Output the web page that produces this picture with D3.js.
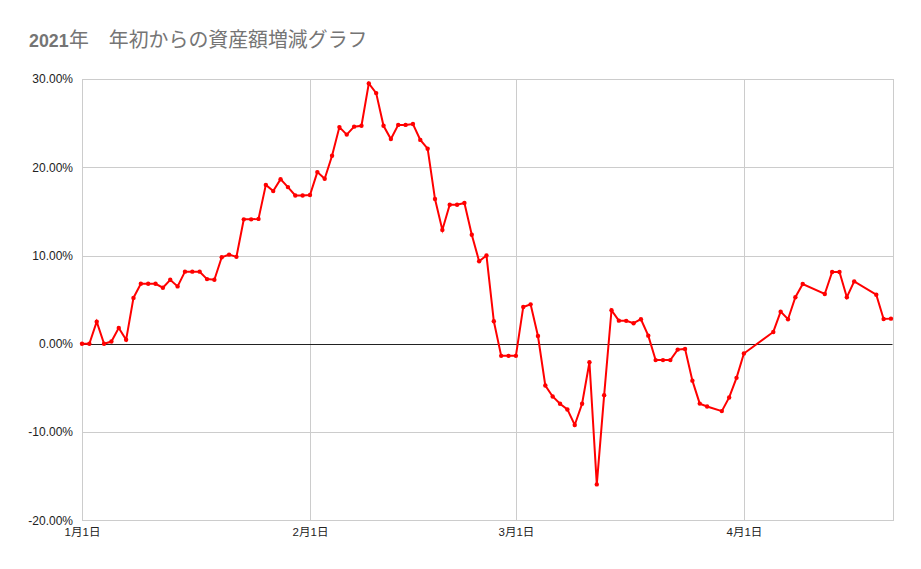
<!DOCTYPE html>
<html><head><meta charset="utf-8">
<script src="https://cdn.jsdelivr.net/npm/d3@7"></script>
<style>
body{margin:0;background:#fff;}
text{font-family:Arial,"Liberation Sans","Noto Sans CJK JP",sans-serif;}
</style></head>
<body><svg id="c" width="921" height="569"></svg>
<script>
const titleText = ["2021", "年　年初からの資産額増減グラフ"];
const dates = [
 "2021-01-01","2021-01-02","2021-01-03","2021-01-04","2021-01-05","2021-01-06","2021-01-07","2021-01-08","2021-01-09","2021-01-10",
 "2021-01-11","2021-01-12","2021-01-13","2021-01-14","2021-01-15","2021-01-16","2021-01-17","2021-01-18","2021-01-19","2021-01-20",
 "2021-01-21","2021-01-22","2021-01-23","2021-01-24","2021-01-25","2021-01-26","2021-01-27","2021-01-28","2021-01-29","2021-01-30","2021-01-31",
 "2021-02-01","2021-02-02","2021-02-03","2021-02-04","2021-02-05","2021-02-06","2021-02-07","2021-02-08","2021-02-09","2021-02-10",
 "2021-02-11","2021-02-12","2021-02-13","2021-02-14","2021-02-15","2021-02-16","2021-02-17","2021-02-18","2021-02-19","2021-02-20",
 "2021-02-21","2021-02-22","2021-02-23","2021-02-24","2021-02-25","2021-02-26","2021-02-27","2021-02-28",
 "2021-03-01","2021-03-02","2021-03-03","2021-03-04","2021-03-05","2021-03-06","2021-03-07","2021-03-08","2021-03-09","2021-03-10",
 "2021-03-11","2021-03-12","2021-03-13","2021-03-14","2021-03-15","2021-03-16","2021-03-17","2021-03-18","2021-03-19","2021-03-20",
 "2021-03-21","2021-03-22","2021-03-23","2021-03-24","2021-03-25","2021-03-26","2021-03-27",
 "2021-03-29","2021-03-30","2021-03-31","2021-04-01",
 "2021-04-05","2021-04-06","2021-04-07","2021-04-08","2021-04-09",
 "2021-04-12","2021-04-13","2021-04-14","2021-04-15","2021-04-16",
 "2021-04-19","2021-04-20","2021-04-21"
];
const values = [
 0, 0, 2.5, 0, 0.25, 1.8, 0.45, 5.2, 6.8, 6.8,
 6.8, 6.35, 7.25, 6.5, 8.17, 8.17, 8.17, 7.33, 7.25, 9.8,
 10.1, 9.85, 14.1, 14.1, 14.15, 18.0, 17.3, 18.65, 17.75, 16.8, 16.8,
 16.85, 19.45, 18.7, 21.3, 24.55, 23.7, 24.6, 24.7, 29.5, 28.4,
 24.7, 23.2, 24.8, 24.8, 24.9, 23.1, 22.1, 16.4, 12.9, 15.75,
 15.75, 15.95, 12.35, 9.35, 10.0, 2.55, -1.37, -1.37,
 -1.37, 4.17, 4.47, 0.88, -4.73, -5.97, -6.8, -7.44, -9.2, -6.8,
 -2.09, -15.93, -5.82, 3.8, 2.62, 2.6, 2.33, 2.78, 0.92, -1.85,
 -1.85, -1.85, -0.66, -0.58, -4.18, -6.78, -7.1,
 -7.63, -6.08, -3.86, -1.1,
 1.34, 3.64, 2.78, 5.27, 6.77,
 5.64, 8.13, 8.13, 5.27, 7.07,
 5.56, 2.81, 2.85
];
const yTicks = [-20, -10, 0, 10, 20, 30];
const xTickDates = ["2021-01-01","2021-02-01","2021-03-01","2021-04-01"];
const xTickLabels = ["1月1日","2月1日","3月1日","4月1日"];

const parse = d3.utcParse("%Y-%m-%d");
const data = dates.map((d,i)=>({date:parse(d), v:values[i]}));

const svg = d3.select("#c");
const L = 82, R = 892.5, T = 79, B = 520.3;
const x = d3.scaleUtc().domain([parse("2021-01-01"), d3.utcHour.offset(parse("2021-04-21"), 5)]).range([L, R]);
const y = d3.scaleLinear().domain([-20, 30]).range([B, T]);

svg.append("rect").attr("width",921).attr("height",569).attr("fill","#fff");

// title
const tt = svg.append("text").attr("x",29).attr("y",46.5).attr("fill","#757575");
tt.append("tspan").attr("font-weight","bold").attr("font-size",17.8).text(titleText[0]);
tt.append("tspan").attr("font-size",19.9).attr("dx",0.5).text(titleText[1]);

// horizontal grid
const yAxis = d3.axisLeft(y).tickValues(yTicks).tickSize(-(R-L)).tickPadding(9)
  .tickFormat(d => d.toFixed(2) + "%");
const gy = svg.append("g").attr("transform",`translate(${L},0)`).call(yAxis);
gy.select(".domain").remove();
gy.selectAll(".tick line").attr("stroke", d => d===0 ? "none" : "#cccccc").attr("stroke-width",1)
  .attr("shape-rendering","crispEdges");
gy.selectAll(".tick text").attr("font-size",12).attr("fill","#222").attr("font-family","Arial,'Liberation Sans',sans-serif");

// vertical grid + x labels
const xAxis = d3.axisBottom(x).tickValues(xTickDates.map(parse)).tickSize(-(B-T)).tickPadding(8)
  .tickFormat((d,i) => xTickLabels[i]);
const gx = svg.append("g").attr("transform",`translate(0,${B})`).call(xAxis);
gx.select(".domain").attr("stroke","#cccccc").attr("shape-rendering","crispEdges");
gx.selectAll(".tick line").attr("stroke","#cccccc").attr("shape-rendering","crispEdges");
gx.selectAll(".tick text").attr("font-size",11.5).attr("fill","#222");

// zero line on top of grid
svg.append("line").attr("x1",L).attr("x2",R).attr("y1",Math.round(y(0))+0.5).attr("y2",Math.round(y(0))+0.5)
  .attr("stroke","#222").attr("stroke-width",1);

// line
const line = d3.line().x(d=>x(d.date)).y(d=>y(d.v));
svg.append("path").datum(data).attr("d",line).attr("fill","none")
  .attr("stroke","#ff0000").attr("stroke-width",2).attr("stroke-linejoin","miter");
svg.append("g").selectAll("circle").data(data).join("circle")
  .attr("cx",d=>x(d.date)).attr("cy",d=>y(d.v)).attr("r",2.2).attr("fill","#ff0000");
</script></body></html>
